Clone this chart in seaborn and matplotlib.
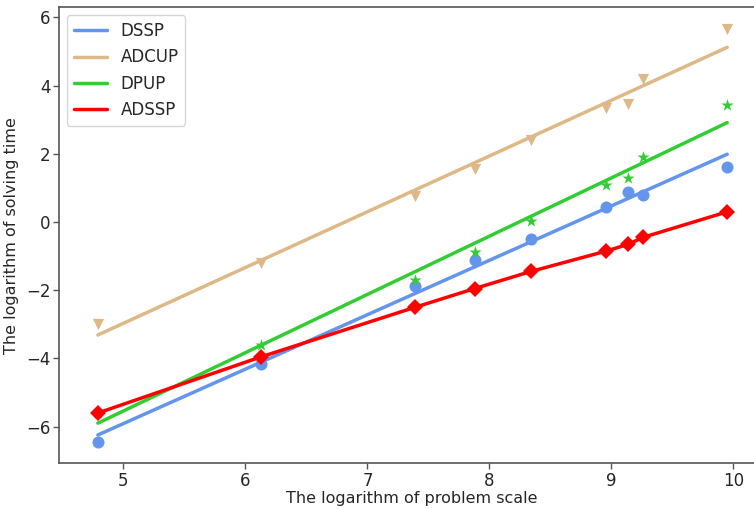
import pandas as pd
import matplotlib
matplotlib.use("Agg")
import matplotlib.pyplot as plt
from matplotlib.lines import Line2D
import seaborn as sns

sns.set_style("white")
plt.rcParams['font.family'] = ['DejaVu Sans']

# log of problem scale (shared by all methods)
x_scale = [4.79, 6.13, 7.39, 7.88, 8.34, 8.96, 9.14, 9.26, 9.95]

# log of solving time per method
dssp = [-6.45, -4.15, -1.87, -1.12, -0.50, 0.45, 0.88, 0.80, 1.60]
adcup = [-3.00, -1.20, 0.75, 1.55, 2.40, 3.35, 3.45, 4.20, 5.65]
dpup = [-5.60, -3.60, -1.70, -0.88, 0.03, 1.10, 1.30, 1.92, 3.42]
adssp = [-5.60, -3.95, -2.50, -1.95, -1.45, -0.85, -0.65, -0.45, 0.30]

methods = ["DSSP", "ADCUP", "DPUP", "ADSSP"]
colors = ["cornflowerblue", "burlywood", "limegreen", "red"]

df = pd.DataFrame({"x": x_scale, "DSSP": dssp, "ADCUP": adcup,
                   "DPUP": dpup, "ADSSP": adssp})

fig = plt.figure(figsize=(7.54, 5.09), dpi=100)
ax = fig.add_axes([0.078, 0.090, 0.935, 0.896])

# regression fits with scatter markers
fits = [("DSSP", "o", 75), ("ADCUP", "v", 65), ("DPUP", "*", 85)]
for (name, marker, size), color in zip(fits, colors):
    sns.regplot(data=df, x="x", y=name, ax=ax, ci=None, color=color,
                marker=marker,
                scatter_kws={"s": size, "linewidths": 0, "alpha": 1},
                line_kws={"lw": 2.5})

# ADSSP drawn as connected line through points
sns.lineplot(data=df, x="x", y="ADSSP", ax=ax, color=colors[3], lw=2.5,
             marker="D", markersize=8.5, markeredgewidth=0)

ax.set_xlim(4.47, 10.25)
ax.set_ylim(-7.07, 6.3)
ax.set_xticks([5, 6, 7, 8, 9, 10])
ax.set_yticks([-6, -4, -2, 0, 2, 4, 6])
ax.set_xlabel("The logarithm of problem scale", fontsize=11.5, labelpad=1)
ax.set_ylabel("The logarithm of solving time", fontsize=11.5, labelpad=5)
ax.tick_params(axis="both", labelsize=12, left=True, bottom=True,
               length=4, width=1, pad=2, color="#555555")
for sp in ax.spines.values():
    sp.set_color("#555555")
    sp.set_linewidth(1.2)

handles = [Line2D([], [], color=c, lw=2.5) for c in colors]
ax.legend(handles, methods, loc="upper left", fontsize=12, frameon=True)

fig.savefig("out.png", dpi=100)
